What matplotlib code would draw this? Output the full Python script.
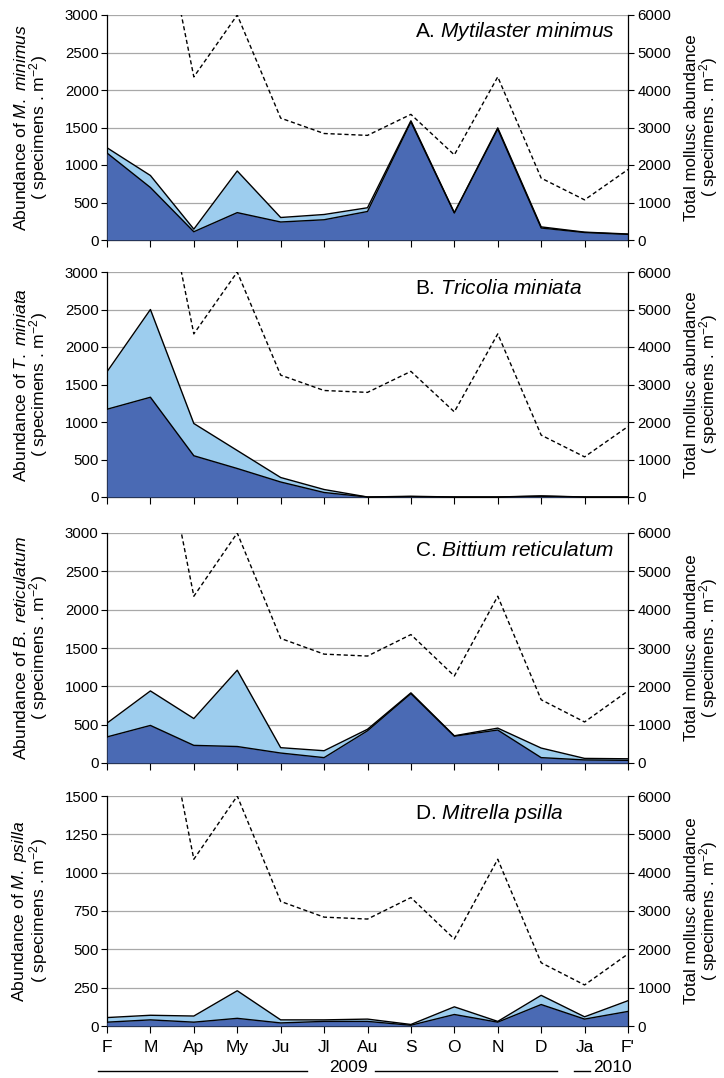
import matplotlib.pyplot as plt
from matplotlib.lines import Line2D

plt.rcParams['font.family'] = ['Liberation Sans', 'DejaVu Sans']
plt.rcParams['mathtext.fontset'] = 'custom'
plt.rcParams['mathtext.rm'] = 'Liberation Sans'
plt.rcParams['mathtext.it'] = 'Liberation Sans:italic'

months = ['F', 'M', 'Ap', 'My', 'Ju', 'Jl', 'Au', 'S', 'O', 'N', 'D', 'Ja', "F'"]

# total mollusc abundance (right axis), first two points run off the top
total_molluscs = [9000, 10100, 4350, 6000, 3250, 2840, 2790, 3350, 2270, 4350, 1650, 1070, 1880]

minimus_dark = [1160, 700, 110, 365, 240, 270, 380, 1575, 360, 1480, 160, 100, 75]
minimus_total = [1230, 860, 145, 920, 300, 340, 430, 1590, 365, 1495, 175, 105, 80]

miniata_dark = [1170, 1330, 550, 380, 200, 60, 0, 5, 0, 0, 10, 0, 0]
miniata_total = [1670, 2500, 980, 620, 260, 100, 0, 10, 0, 0, 15, 0, 0]

reticulatum_dark = [340, 490, 230, 215, 130, 70, 420, 905, 350, 430, 70, 40, 35]
reticulatum_total = [520, 940, 580, 1210, 200, 160, 440, 915, 355, 455, 195, 60, 55]

psilla_dark = [25, 40, 25, 50, 20, 30, 30, 5, 75, 25, 140, 45, 95]
psilla_total = [55, 70, 65, 230, 40, 40, 45, 10, 125, 30, 200, 60, 165]

titles = ['A. $\\it{Mytilaster\\ minimus}$', 'B. $\\it{Tricolia\\ miniata}$',
          'C. $\\it{Bittium\\ reticulatum}$', 'D. $\\it{Mitrella\\ psilla}$']
short_names = ['M.\\ minimus', 'T.\\ miniata', 'B.\\ reticulatum', 'M.\\ psilla']

DARK = '#4a6ab4'
LIGHT = '#9dcdee'

W, H = 724, 1078
fig = plt.figure(figsize=(W / 100, H / 100), dpi=100)

# (top px, bottom px) of each panel
rows = [(15, 240), (272, 497), (533, 763), (796, 1026)]
left_px, right_px = 107, 628

panels = [
    (minimus_dark, minimus_total, 3000, 500),
    (miniata_dark, miniata_total, 3000, 500),
    (reticulatum_dark, reticulatum_total, 3000, 500),
    (psilla_dark, psilla_total, 1500, 250),
]

x = list(range(len(months)))

for i, (dark, total, ymax, step) in enumerate(panels):
    top, bot = rows[i]
    ax = fig.add_axes([left_px / W, 1 - bot / H, (right_px - left_px) / W, (bot - top) / H])
    ax.fill_between(x, 0, total, color=LIGHT, linewidth=0, zorder=2)
    ax.fill_between(x, 0, dark, color=DARK, linewidth=0, zorder=3)
    ax.plot(x, total, color='black', linewidth=1.0, zorder=4)
    ax.plot(x, dark, color='black', linewidth=1.0, zorder=4)

    ax.set_xlim(0, len(months) - 1)
    ax.set_ylim(0, ymax)
    ax.set_yticks(range(0, ymax + 1, step))
    ax.grid(axis='y', color='#a8a8a8', linewidth=0.9, zorder=0)
    ax.set_axisbelow(True)
    ax.set_xticks(x)
    if i == len(panels) - 1:
        ax.set_xticklabels(months, fontsize=12.5)
    else:
        ax.set_xticklabels([])
    ax.tick_params(axis='y', labelsize=10.8, length=4, width=0.8, pad=2)
    ax.tick_params(axis='x', length=5, width=0.8, pad=5)
    for s in ['top', 'right']:
        ax.spines[s].set_visible(False)
    for s in ['left', 'bottom']:
        ax.spines[s].set_linewidth(0.9)
    ax.set_ylabel('Abundance of $\\it{' + short_names[i] + '}$\n( specimens . m$^{-2}$)',
                  fontsize=12.6, linespacing=0.88)
    ax.yaxis.set_label_coords(-0.11, 0.5)
    ax.text(0.591, 0.925, titles[i], transform=ax.transAxes, fontsize=15,
            ha='left', va='center', zorder=6)

    ax2 = ax.twinx()
    ax2.plot(x, total_molluscs, color='black', linestyle=(0, (3, 2)), linewidth=1.0)
    ax2.set_ylim(0, 6000)
    ax2.set_yticks(range(0, 6001, 1000))
    ax2.tick_params(axis='y', labelsize=10.8, length=4, width=0.8, pad=3)
    for s in ['top', 'left', 'bottom']:
        ax2.spines[s].set_visible(False)
    ax2.spines['right'].set_linewidth(0.9)
    ax2.set_ylabel('Total mollusc abundance\n( specimens . m$^{-2}$)',
                   fontsize=12.2, linespacing=0.86)
    ax2.yaxis.set_label_coords(1.108, 0.5)

# year bars under the x axis
yl = 1 - 1071 / H
for x0, x1 in [(98, 307), (375, 557), (574, 590)]:
    fig.add_artist(Line2D([x0 / W, x1 / W], [yl, yl], color='black', linewidth=1.0))
fig.text(348 / W, 1 - 1067 / H, '2009', fontsize=12.5, ha='center', va='center')
fig.text(612 / W, 1 - 1067 / H, '2010', fontsize=12.5, ha='center', va='center')

fig.savefig('out.png', dpi=100)
